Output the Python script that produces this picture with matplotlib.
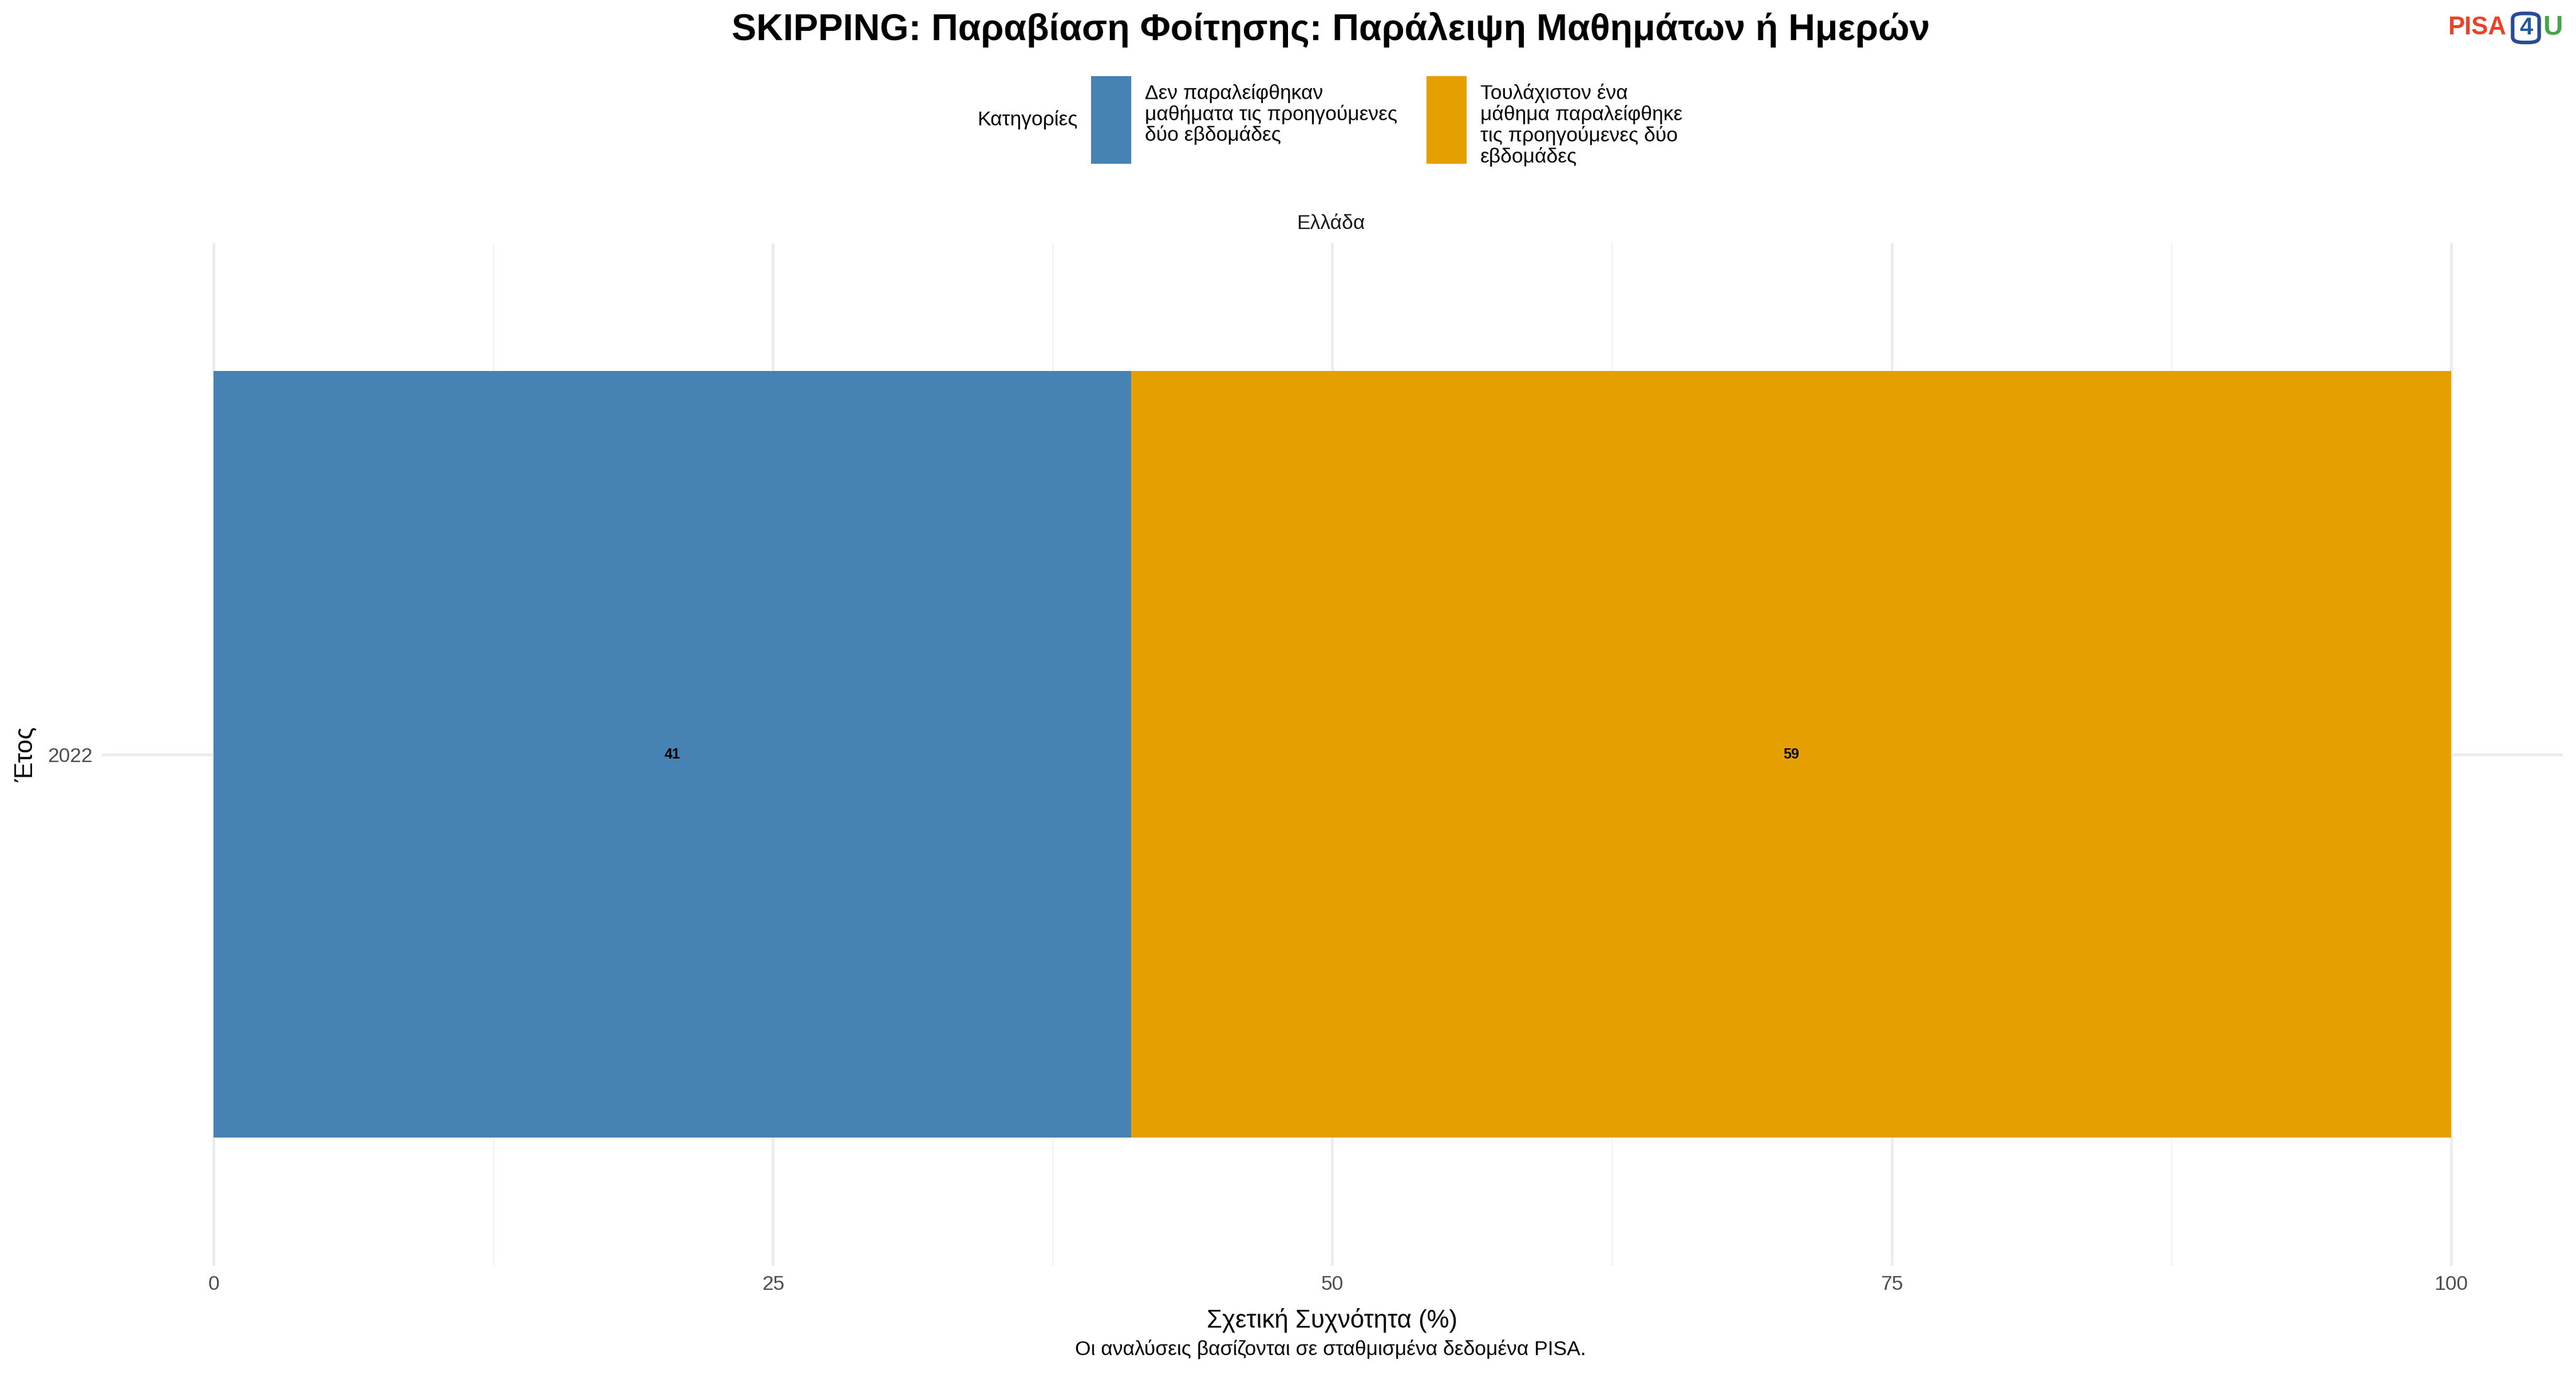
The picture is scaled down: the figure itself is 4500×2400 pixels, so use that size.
import matplotlib
matplotlib.use("Agg")
import matplotlib.pyplot as plt
from matplotlib.patches import Rectangle, FancyBboxPatch

plt.rcParams["font.family"] = ["Liberation Sans", "DejaVu Sans"]

years = ["2022"]
categories = [
    "Δεν παραλείφθηκαν\nμαθήματα τις προηγούμενες\nδύο εβδομάδες",
    "Τουλάχιστον ένα\nμάθημα παραλείφθηκε\nτις προηγούμενες δύο\nεβδομάδες",
]
values = [41, 59]
colors = ["#4682B4", "#E69F00"]

W, H = 1568, 836  # layout reference units
fig = plt.figure(figsize=(15, 8), dpi=300)
ax = fig.add_axes([62 / W, 1 - 770 / H, (1560 - 62) / W, (770 - 148) / H])

left = 0
for v, c in zip(values, colors):
    ax.barh(1, v, left=left, height=0.9, color=c, zorder=2)
    ax.text(left + v / 2, 1, f"{v}", ha="center", va="center", fontsize=6, fontweight="bold", zorder=3)
    left += v

ax.set_xlim(-5, 105)
ax.set_ylim(0.4, 1.6)
ax.set_yticks([1])
ax.set_yticklabels(years)
ax.set_xticks([0, 25, 50, 75, 100])
ax.set_xticks([12.5, 37.5, 62.5, 87.5], minor=True)
ax.grid(True, which="major", color="#EBEBEB", lw=1.1, zorder=0)
ax.grid(True, which="minor", axis="x", color="#F2F2F2", lw=0.6, zorder=0)
for s in ax.spines.values():
    s.set_visible(False)
ax.tick_params(which="both", length=0, labelsize=8.5, labelcolor="#4D4D4D", pad=4)
ax.set_xlabel("Σχετική Συχνότητα (%)", fontsize=10.5, labelpad=6)
ax.set_ylabel("Έτος", fontsize=10.5, labelpad=4)

fig.text(810 / W, 1 - 136 / H, "Ελλάδα", ha="center", va="center", fontsize=8.5, color="#1A1A1A")
fig.text(810 / W, 1 - 18 / H, "SKIPPING: Παραβίαση Φοίτησης: Παράλειψη Μαθημάτων ή Ημερών",
         ha="center", va="center", fontsize=15.5, fontweight="bold")
fig.text(810 / W, 1 - 821 / H, "Οι αναλύσεις βασίζονται σε σταθμισμένα δεδομένα PISA.",
         ha="center", va="center", fontsize=8.5)

# legend
fig.text(656 / W, 1 - 73 / H, "Κατηγορίες", ha="right", va="center", fontsize=8.5)
for x0, c, lab in zip([665, 869], colors, categories):
    fig.patches.append(Rectangle((x0 / W, 1 - 99 / H), 23 / W, 52 / H, color=c, transform=fig.transFigure))
    fig.text((x0 + 32) / W, 1 - 51 / H, lab, ha="left", va="top", fontsize=8.5, linespacing=1.1)

# logo
fig.text(1490 / W, 1 - 17 / H, "PISA", ha="left", va="center", fontsize=10.5, fontweight="bold", color="#E8442A")
fig.patches.append(FancyBboxPatch((1531 / W, 1 - 25 / H), 13 / W, 16 / H,
                                  boxstyle="round,pad=0.001,rounding_size=0.004",
                                  fill=False, ec="#2A4A94", lw=1.5, transform=fig.transFigure))
fig.text(1537.5 / W, 1 - 17 / H, "4", ha="center", va="center", fontsize=10, fontweight="bold", color="#1F5AA0")
fig.text(1548 / W, 1 - 17 / H, "U", ha="left", va="center", fontsize=11.5, fontweight="bold", color="#43A649")

fig.savefig("out.png", dpi=300, facecolor="white")
